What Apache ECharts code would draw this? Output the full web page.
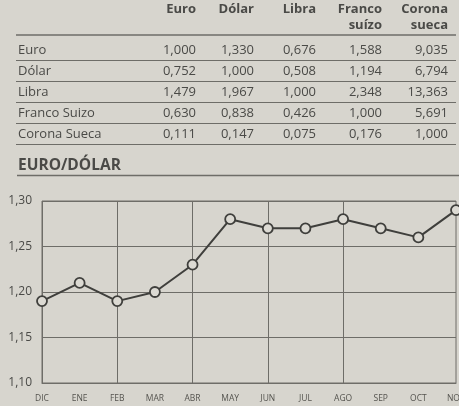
<!DOCTYPE html>
<html>
<head>
<meta charset="utf-8">
<script src="https://cdn.jsdelivr.net/npm/echarts@6/dist/echarts.min.js"></script>
<style>
  html, body { margin: 0; padding: 0; background: #d7d5ce; }
  #chart { width: 459px; height: 406px; }
</style>
</head>
<body>
<div id="chart"></div>
<script>
// Cross rates table
const colHeads1 = ['Euro', 'Dólar', 'Libra', 'Franco', 'Corona'];
const colHeads2 = ['', '', '', 'suízo', 'sueca'];
const rowNames = ['Euro', 'Dólar', 'Libra', 'Franco Suizo', 'Corona Sueca'];
const rateEuro   = ['1,000', '1,330', '0,676', '1,588', '9,035'];
const rateDolar  = ['0,752', '1,000', '0,508', '1,194', '6,794'];
const rateLibra  = ['1,479', '1,967', '1,000', '2,348', '13,363'];
const rateFranco = ['0,630', '0,838', '0,426', '1,000', '5,691'];
const rateCorona = ['0,111', '0,147', '0,075', '0,176', '1,000'];
const rateRows = [rateEuro, rateDolar, rateLibra, rateFranco, rateCorona];

// Euro/dollar monthly series
const months = ['DIC', 'ENE', 'FEB', 'MAR', 'ABR', 'MAY', 'JUN', 'JUL', 'AGO', 'SEP', 'OCT', 'NOV'];
const euroDolar = [1.19, 1.21, 1.19, 1.20, 1.23, 1.28, 1.27, 1.27, 1.28, 1.27, 1.26, 1.29];

const INK = '#4a4a47';
const RULE = '#6e6d68';
const FONT = '"Open Sans", "Noto Sans", sans-serif';

const colRight = [196, 254, 316, 382, 448];
const rowY = [50, 71, 92, 113, 134];
const ruleY = [35, 60.5, 81.5, 102.5, 123.5, 144.5];

const graphics = [];
colHeads1.forEach((t, i) => graphics.push({
  type: 'text', x: colRight[i], y: 9,
  style: { text: t, align: 'right', verticalAlign: 'middle', font: 'bold 13px ' + FONT, fill: INK }
}));
colHeads2.forEach((t, i) => t && graphics.push({
  type: 'text', x: colRight[i], y: 25.5,
  style: { text: t, align: 'right', verticalAlign: 'middle', font: 'bold 13px ' + FONT, fill: INK }
}));
rowNames.forEach((name, r) => {
  graphics.push({
    type: 'text', x: 18, y: rowY[r],
    style: { text: name, align: 'left', verticalAlign: 'middle', font: '13px ' + FONT, fill: INK }
  });
  rateRows[r].forEach((v, c) => graphics.push({
    type: 'text', x: colRight[c], y: rowY[r],
    style: { text: v, align: 'right', verticalAlign: 'middle', font: '13px ' + FONT, fill: INK }
  }));
});
ruleY.forEach((y, i) => graphics.push({
  type: 'line', shape: { x1: 16, y1: y, x2: 456, y2: y },
  style: { stroke: RULE, lineWidth: i === 0 ? 1.6 : 1.2 }
}));
// Section title and its rule
graphics.push({
  type: 'text', x: 18, y: 166,
  style: { text: 'EURO/DÓLAR', align: 'left', verticalAlign: 'middle', font: 'bold 15.5px ' + FONT, fill: INK }
});
graphics.push({
  type: 'line', shape: { x1: 17, y1: 175.5, x2: 459, y2: 175.5 },
  style: { stroke: RULE, lineWidth: 1.4 }
});

const chart = echarts.init(document.getElementById('chart'), null, { renderer: 'canvas' });
chart.setOption({
  backgroundColor: '#d7d5ce',
  animation: false,
  graphic: graphics,
  grid: {
    left: 42, right: 3, top: 201, bottom: 23,
    outerBoundsMode: 'none',
    show: true, borderColor: RULE, borderWidth: 1
  },
  xAxis: {
    type: 'category',
    data: months,
    boundaryGap: false,
    axisLine: { show: true, lineStyle: { color: RULE, width: 1 } },
    axisTick: { show: false },
    axisLabel: { color: '#55544f', fontSize: 8.5, fontFamily: FONT, margin: 11, interval: 0 },
    splitLine: {
      show: true,
      interval: (idx) => idx % 2 === 0 && idx <= 8,
      lineStyle: { color: RULE, width: 1 }
    }
  },
  yAxis: {
    type: 'value',
    min: 1.10, max: 1.30, interval: 0.05,
    axisLine: { show: false },
    axisTick: { show: false },
    axisLabel: {
      color: INK, fontSize: 12, fontFamily: FONT, margin: 10,
      formatter: (v) => v.toFixed(2).replace('.', ',')
    },
    splitLine: { show: true, lineStyle: { color: RULE, width: 1 } }
  },
  series: [{
    type: 'line',
    data: euroDolar,
    symbol: 'circle',
    symbolSize: 10,
    itemStyle: { color: '#dcdad3', borderColor: '#3f3f3c', borderWidth: 1.8 },
    lineStyle: { color: '#3f3f3c', width: 2 },
    z: 5
  }]
});
</script>
</body>
</html>
